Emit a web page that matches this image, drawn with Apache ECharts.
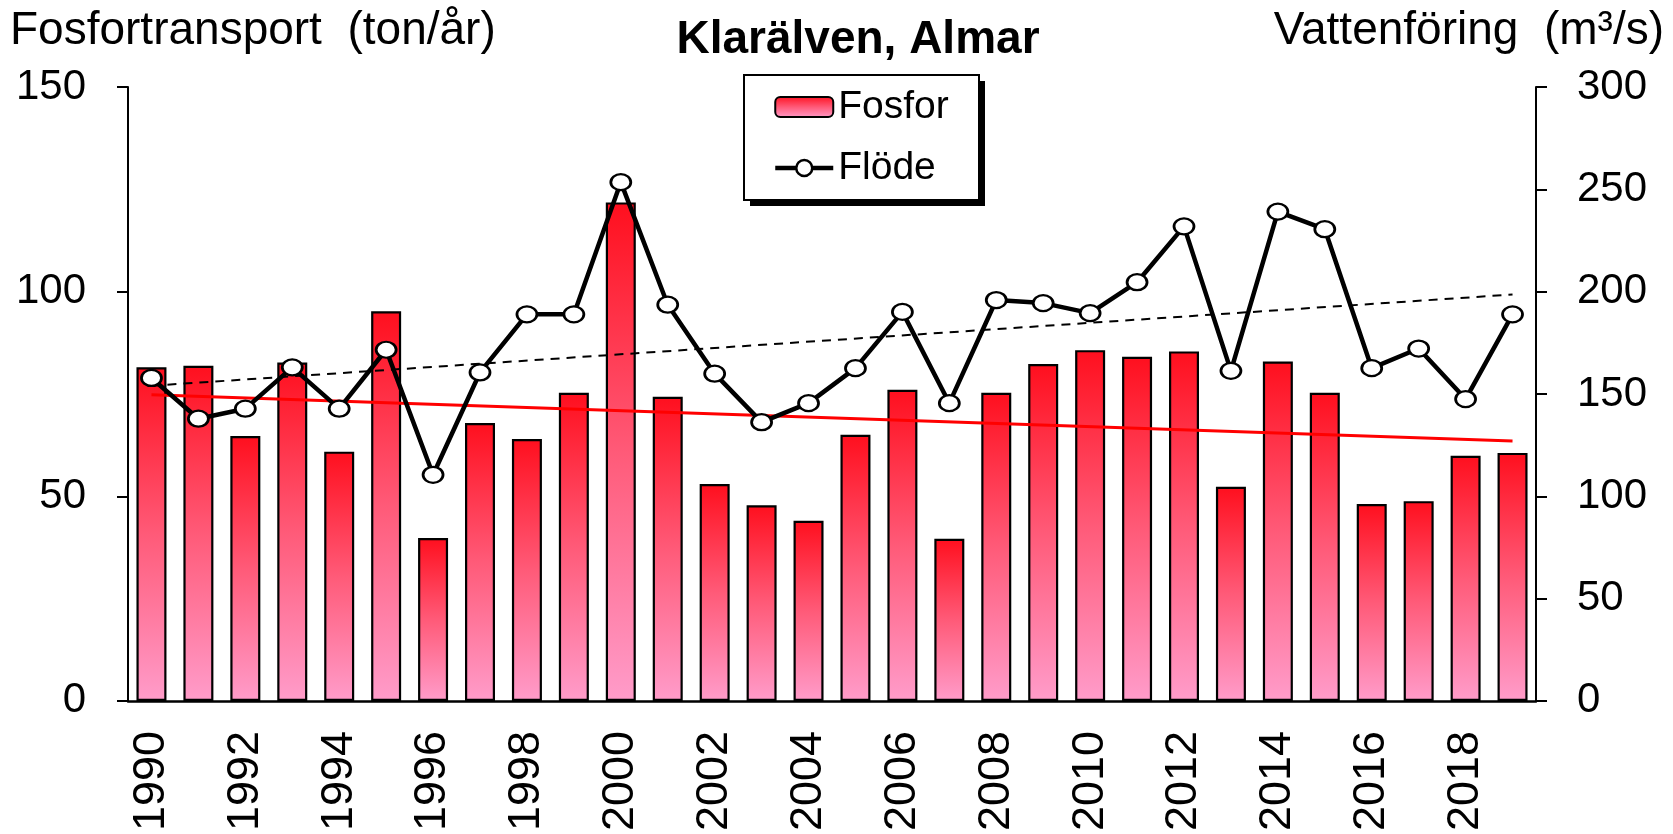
<!DOCTYPE html>
<html>
<head>
<meta charset="utf-8">
<script src="https://cdn.jsdelivr.net/npm/echarts@6/dist/echarts.min.js"></script>
<style>
html,body{margin:0;padding:0;background:#fff;}
#chart{width:1673px;height:834px;}
</style>
</head>
<body>
<div id="chart"></div>
<script>
const years = ['1990','1991','1992','1993','1994','1995','1996','1997','1998','1999','2000','2001','2002','2003','2004','2005','2006','2007','2008','2009','2010','2011','2012','2013','2014','2015','2016','2017','2018','2019'];
const fosfor = [81.5, 81.9, 64.7, 82.7, 60.9, 95.2, 39.8, 67.9, 64.0, 75.3, 121.8, 74.3, 53.0, 47.8, 44.0, 65.0, 76.0, 39.6, 75.3, 82.3, 85.7, 84.1, 85.4, 52.3, 82.9, 75.3, 48.1, 48.8, 59.9, 60.6];
const flode = [157.8, 137.9, 142.8, 163.0, 142.8, 171.6, 110.5, 160.5, 188.9, 188.9, 253.5, 193.6, 159.9, 136.2, 145.5, 162.6, 190.1, 145.5, 195.9, 194.4, 189.5, 204.6, 231.9, 161.3, 239.1, 230.5, 162.6, 172.2, 147.5, 188.9];
const fosforTrend = [['1990', 74.8], ['2019', 63.5]];
const flodeTrend = [['1990', 154.0], ['2019', 198.6]];

const FONT = '"Liberation Sans", Arial, sans-serif';
const chart = echarts.init(document.getElementById('chart'));
chart.setOption({
  backgroundColor: '#ffffff',
  animation: false,
  title: [
    { text: 'Klarälven, Almar', left: 858, top: 17, padding: 0, textAlign: 'center',
      textStyle: { fontFamily: FONT, fontSize: 46, fontWeight: 'bold', color: '#000' } },
    { text: 'Fosfortransport  (ton/år)', left: 10, top: 8, padding: 0,
      textStyle: { fontFamily: FONT, fontSize: 46, fontWeight: 'normal', color: '#000' } },
    { text: 'Vattenföring  (m³/s)', right: 9, top: 8, padding: 0,
      textStyle: { fontFamily: FONT, fontSize: 46, fontWeight: 'normal', color: '#000' } }
  ],
  graphic: [
    { type: 'rect', z: 1, shape: { x: 750, y: 81, width: 235, height: 125 },
      style: { fill: '#000' } },
    { type: 'rect', z: 2, shape: { x: 744, y: 75, width: 235, height: 125 },
      style: { fill: '#fff', stroke: '#000', lineWidth: 2 } }
  ],
  legend: {
    orient: 'vertical',
    left: 773, top: 87,
    padding: 0,
    itemGap: 21,
    itemWidth: 58, itemHeight: 20,
    z: 10,
    textStyle: { fontFamily: FONT, fontSize: 39, lineHeight: 40, color: '#000' },
    data: [
      { name: 'Fosfor' },
      { name: 'Flöde', lineStyle: { width: 4.5, color: '#000' },
        itemStyle: { color: '#fff', borderColor: '#000', borderWidth: 2.5 } }
    ]
  },
  grid: { left: 128, right: 137, top: 87, bottom: 133, containLabel: false },
  xAxis: {
    type: 'category',
    data: years,
    boundaryGap: true,
    axisLine: { lineStyle: { color: '#000', width: 2.5 } },
    axisTick: { show: false },
    axisLabel: { interval: 1, rotate: 90, margin: 30, fontFamily: FONT, fontSize: 45, color: '#000' },
    splitLine: { show: false }
  },
  yAxis: [
    { type: 'value', min: 0, max: 150, interval: 50, position: 'left',
      axisLine: { show: true, lineStyle: { color: '#000', width: 2 } },
      axisTick: { show: true, length: 11, lineStyle: { color: '#000', width: 2 } },
      axisLabel: { margin: 42, fontFamily: FONT, fontSize: 42, color: '#000' },
      splitLine: { show: false } },
    { type: 'value', min: 0, max: 300, interval: 50, position: 'right',
      axisLine: { show: true, lineStyle: { color: '#000', width: 2 } },
      axisTick: { show: true, length: 11, lineStyle: { color: '#000', width: 2 } },
      axisLabel: { margin: 41, fontFamily: FONT, fontSize: 42, color: '#000' },
      splitLine: { show: false } }
  ],
  series: [
    { name: 'Fosfor', type: 'bar', yAxisIndex: 0, data: fosfor, barWidth: 30,
      itemStyle: {
        color: new echarts.graphic.LinearGradient(0, 0, 0, 1, [
          { offset: 0, color: '#ff0f1e' },
          { offset: 0.5, color: '#ff5a78' },
          { offset: 1, color: '#ff9cca' }
        ]),
        borderColor: '#000', borderWidth: 2.2
      } },
    { name: 'FosforTrend', type: 'line', yAxisIndex: 0, data: fosforTrend, symbol: 'none',
      lineStyle: { color: '#ff0000', width: 3 }, z: 3 },
    { name: 'FlodeTrend', type: 'line', yAxisIndex: 1, data: flodeTrend, symbol: 'none',
      lineStyle: { color: '#000', width: 2, type: [9, 7] }, z: 3 },
    { name: 'Flöde', type: 'line', yAxisIndex: 1, data: flode,
      symbol: 'circle', symbolSize: [20, 16],
      itemStyle: { color: '#fff', borderColor: '#000', borderWidth: 2.5 },
      lineStyle: { color: '#000', width: 4.5 }, z: 4 }
  ]
});
</script>
</body>
</html>
